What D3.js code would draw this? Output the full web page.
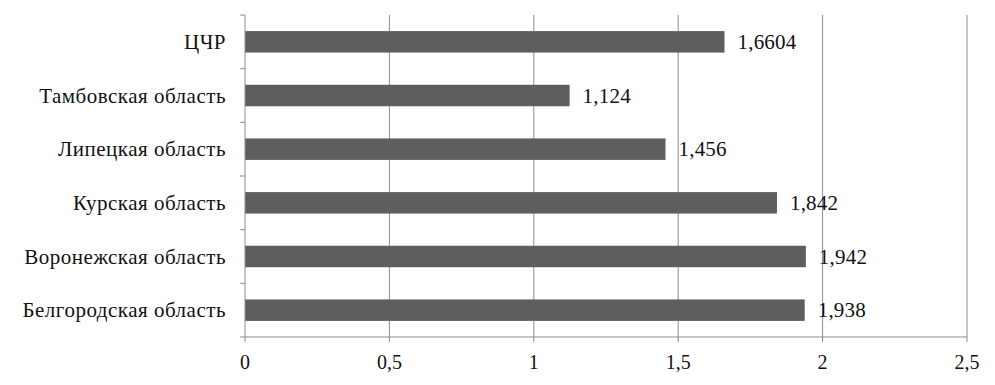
<!DOCTYPE html>
<html><head><meta charset="utf-8">
<script src="https://cdn.jsdelivr.net/npm/d3@7"></script>
<style>body{margin:0;background:#fff}svg{display:block}</style>
</head><body><svg id="c" width="995" height="385"></svg>
<script>
const categories = ["ЦЧР","Тамбовская область","Липецкая область","Курская область","Воронежская область","Белгородская область"];
const values = [1.6604, 1.124, 1.456, 1.842, 1.942, 1.938];
const valueLabels = ["1,6604","1,124","1,456","1,842","1,942","1,938"];
const xTicks = [0, 0.5, 1, 1.5, 2, 2.5];
const xTickLabels = ["0","0,5","1","1,5","2","2,5"];

const FONT = "'Liberation Serif', 'Times New Roman', 'DejaVu Serif', serif";
const svg = d3.select("#c").attr("font-family", FONT);
const m = {left:245, right:995-967, top:15, bottom:385-337};
const W = 995 - m.left - m.right, H = 385 - m.top - m.bottom;
const g = svg.append("g").attr("transform", `translate(${m.left},${m.top})`);
const x = d3.scaleLinear().domain([0,2.5]).range([0,W]);
const y = d3.scaleBand().domain(categories).range([0,H]).paddingInner(0.6).paddingOuter(0.3);
const yb = d3.scaleBand().domain(categories).range([0,H]);

g.selectAll(".grid").data(xTicks.slice(1)).enter().append("line")
 .attr("x1", d=>x(d)).attr("x2", d=>x(d)).attr("y1",0).attr("y2",H)
 .attr("stroke","#8c8c8c").attr("stroke-width",1);

g.selectAll(".bar").data(categories).enter().append("rect")
 .attr("x",0).attr("y",d=>y(d)).attr("width",(d,i)=>x(values[i])).attr("height",y.bandwidth())
 .attr("fill","#5e5e5e");

g.selectAll(".vl").data(categories).enter().append("text")
 .attr("x",(d,i)=>x(values[i])+13).attr("y",d=>y(d)+y.bandwidth()/2+7)
 .attr("font-size","21px").attr("letter-spacing","0.2px").attr("fill","#111").text((d,i)=>valueLabels[i]);

g.append("line").attr("x1",0).attr("x2",0).attr("y1",0).attr("y2",H).attr("stroke","#8c8c8c");
const yTickPos = categories.map(c=>yb(c)).concat([H]);
g.selectAll(".yt").data(yTickPos).enter().append("line")
 .attr("x1",-5).attr("x2",0).attr("y1",d=>d).attr("y2",d=>d).attr("stroke","#8c8c8c");
g.selectAll(".yl").data(categories).enter().append("text")
 .attr("x",-19).attr("y",d=>yb(d)+yb.bandwidth()/2+7).attr("text-anchor","end")
 .attr("font-size","21px").attr("letter-spacing","0.5px").attr("fill","#111").text(d=>d);

g.append("line").attr("x1",0).attr("x2",W).attr("y1",H).attr("y2",H).attr("stroke","#8c8c8c");
g.selectAll(".xt").data(xTicks).enter().append("line")
 .attr("x1",d=>x(d)).attr("x2",d=>x(d)).attr("y1",H).attr("y2",H+5).attr("stroke","#8c8c8c");
g.selectAll(".xl").data(xTicks).enter().append("text")
 .attr("x",d=>x(d)).attr("y",H+32).attr("text-anchor","middle")
 .attr("font-size","20px").attr("fill","#111").text((d,i)=>xTickLabels[i]);
</script></body></html>
